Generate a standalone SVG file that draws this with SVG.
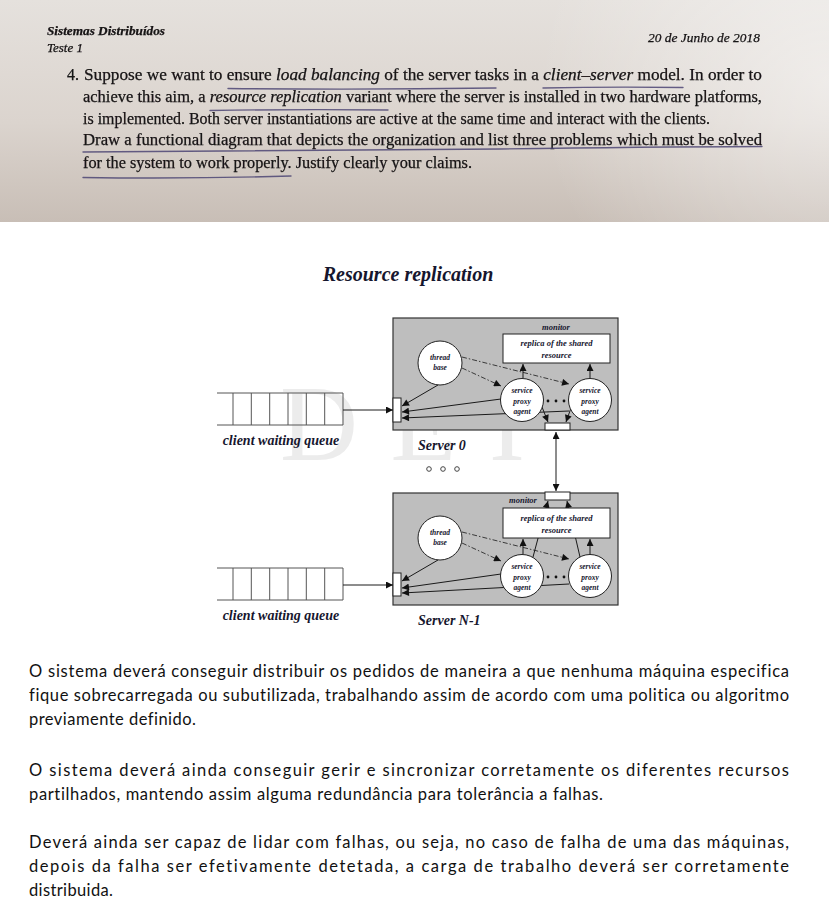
<svg xmlns="http://www.w3.org/2000/svg" width="829" height="922" viewBox="0 0 829 922">
  <defs>
    <linearGradient id="paperV" x1="0" y1="0" x2="0" y2="1">
      <stop offset="0" stop-color="#e5e1dd"/>
      <stop offset="0.55" stop-color="#dbd4ce"/>
      <stop offset="1" stop-color="#c8beb6"/>
    </linearGradient>
    <radialGradient id="paperGlow" cx="1" cy="0.1" r="0.35" gradientTransform="translate(0,0) scale(1,3.7)">
      <stop offset="0" stop-color="#ffffff" stop-opacity="0.5"/>
      <stop offset="1" stop-color="#ffffff" stop-opacity="0"/>
    </radialGradient>
    <filter id="soft" x="-5%" y="-5%" width="110%" height="110%">
      <feGaussianBlur stdDeviation="0.35"/>
    </filter>
    <marker id="ah" viewBox="0 0 10 10" refX="10" refY="5" markerWidth="9" markerHeight="7" orient="auto-start-reverse" markerUnits="userSpaceOnUse">
      <path d="M0,0 L10,5 L0,10 z" fill="#111"/>
    </marker>
    <style>
      .hdr { font-family: "Liberation Serif", serif; fill: #151314; stroke: #151314; stroke-width: 0.25; }
      .pen { fill: none; stroke: #4d4674; stroke-width: 1.4; stroke-linecap: round; opacity: 0.85; }
      .lbl { font-family: "Liberation Serif", serif; font-style: italic; font-weight: bold; fill: #16162e; }
      .srv { fill: #bebebe; stroke: #333; stroke-width: 1.2; }
      .wbox { fill: #fff; stroke: #222; stroke-width: 1; }
      .node { fill: #fff; stroke: #222; stroke-width: 1; }
      .ln { fill: none; stroke: #1a1a1a; stroke-width: 1; marker-end: url(#ah); }
      .dd { fill: none; stroke: #3a3a3a; stroke-width: 1; stroke-dasharray: 5 2 1.5 2; marker-end: url(#ah); }
      .q { fill: none; stroke: #555; stroke-width: 1; }
      .body { font-family: Lato, "Open Sans", sans-serif; font-size: 16.5px; fill: #111; font-variant-ligatures: none; }
    </style>
  </defs>

  <rect width="829" height="922" fill="#ffffff"/>

  <!-- exam sheet header -->
  <g id="exam-header">
    <rect x="0" y="0" width="829" height="222" fill="url(#paperV)"/>
    <rect x="0" y="0" width="829" height="222" fill="url(#paperGlow)"/>
    <g filter="url(#soft)">
      <text class="hdr" x="47" y="35" font-size="12" font-style="italic" font-weight="bold" textLength="118" lengthAdjust="spacingAndGlyphs">Sistemas Distribuídos</text>
      <text class="hdr" x="47" y="52" font-size="12" font-style="italic" textLength="36" lengthAdjust="spacingAndGlyphs">Teste 1</text>
      <text class="hdr" x="648" y="42" font-size="13" font-style="italic" textLength="112" lengthAdjust="spacingAndGlyphs">20 de Junho de 2018</text>

      <text class="hdr" x="67" y="80" font-size="16">4.</text>
      <text class="hdr" x="84" y="80" font-size="16" textLength="678" lengthAdjust="spacingAndGlyphs">Suppose we want to ensure <tspan font-style="italic">load balancing</tspan> of the server tasks in a <tspan font-style="italic">client–server</tspan> model. In order to</text>
      <text class="hdr" x="83" y="102" font-size="16" textLength="679" lengthAdjust="spacingAndGlyphs">achieve this aim, a <tspan font-style="italic">resource replication</tspan> variant where the server is installed in two hardware platforms,</text>
      <text class="hdr" x="83" y="124" font-size="16" textLength="627" lengthAdjust="spacingAndGlyphs">is implemented. Both server instantiations are active at the same time and interact with the clients.</text>
      <text class="hdr" x="83" y="145" font-size="16" textLength="679" lengthAdjust="spacingAndGlyphs">Draw a functional diagram that depicts the organization and list three problems which must be solved</text>
      <text class="hdr" x="83" y="168" font-size="16" textLength="389" lengthAdjust="spacingAndGlyphs">for the system to work properly. Justify clearly your claims.</text>

      <!-- pen marks -->
      <path class="pen" d="M228,88.5 Q360,90 496,88"/>
      <path class="pen" d="M543,88 Q610,86.5 683,87.5"/>
      <path class="pen" d="M210,110.5 Q300,109 388,110"/>
      <path class="pen" d="M83,152 Q300,150.5 500,149 Q640,147 762,146.5"/>
      <path class="pen" d="M83,177.5 Q190,179 291,176"/>
    </g>
  </g>

  <!-- title -->
  <text class="lbl" x="408" y="281" font-size="20" text-anchor="middle">Resource replication</text>

  <!-- background mark -->
  <text x="280" y="460" font-family="Liberation Serif, serif" font-size="108" fill="#ececec" textLength="245" lengthAdjust="spacing">DEI</text>

  <!-- client waiting queues -->
  <g id="queue-0">
    <path class="q" d="M217,393 H343 M217,425 H343 M233,393 V425 M251.3,393 V425 M269.7,393 V425 M288,393 V425 M306.3,393 V425 M324.7,393 V425 M343,393 V425"/>
    <text class="lbl" x="281" y="445" font-size="14" text-anchor="middle">client waiting queue</text>
  </g>
  <g id="queue-n1">
    <path class="q" d="M217,568 H343 M217,600 H343 M233,568 V600 M251.3,568 V600 M269.7,568 V600 M288,568 V600 M306.3,568 V600 M324.7,568 V600 M343,568 V600"/>
    <text class="lbl" x="281" y="620" font-size="14" text-anchor="middle">client waiting queue</text>
  </g>

  <!-- server 0 -->
  <g id="server-0">
    <rect class="srv" x="393" y="318" width="225" height="112"/>
    <text class="lbl" x="556" y="330" font-size="8.5" text-anchor="middle">monitor</text>
    <g id="server-0-links">
      <path class="ln" d="M438,385 L402,406"/>
      <path class="ln" d="M501,399 L402,412"/>
      <path class="ln" d="M569,411 L402,418"/>
      <path class="dd" d="M462,368 L501,386"/>
      <path class="dd" d="M462,357 L569,384"/>
      <path class="ln" d="M523,378 L523,364"/>
      <path class="ln" d="M590,378 L590,364"/>
      <path class="ln" d="M542,407 L548,422"/>
      <path class="ln" d="M571,408 L566,422"/>
    </g>
    <g id="server-0-replica">
      <rect class="wbox" x="503" y="334" width="107" height="29"/>
      <text class="lbl" x="556.5" y="346" font-size="8.5" text-anchor="middle">replica of the shared</text>
      <text class="lbl" x="556.5" y="358" font-size="8.5" text-anchor="middle">resource</text>
    </g>
    <g id="server-0-thread-base">
      <circle class="node" cx="440" cy="363" r="22"/>
      <text class="lbl" x="440" y="360" font-size="7.5" text-anchor="middle">thread</text>
      <text class="lbl" x="440" y="370" font-size="7.5" text-anchor="middle">base</text>
    </g>
    <g id="server-0-proxy-1">
      <circle class="node" cx="522" cy="400" r="21.5"/>
      <text class="lbl" x="522" y="393" font-size="7.5" text-anchor="middle">service</text>
      <text class="lbl" x="522" y="403.5" font-size="7.5" text-anchor="middle">proxy</text>
      <text class="lbl" x="522" y="414" font-size="7.5" text-anchor="middle">agent</text>
    </g>
    <g id="server-0-proxy-2">
      <circle class="node" cx="590" cy="400" r="21.5"/>
      <text class="lbl" x="590" y="393" font-size="7.5" text-anchor="middle">service</text>
      <text class="lbl" x="590" y="403.5" font-size="7.5" text-anchor="middle">proxy</text>
      <text class="lbl" x="590" y="414" font-size="7.5" text-anchor="middle">agent</text>
    </g>
    <g fill="#111">
      <circle cx="548" cy="401" r="1.4"/>
      <circle cx="556" cy="401" r="1.4"/>
      <circle cx="564" cy="401" r="1.4"/>
    </g>
    <rect id="server-0-input" class="wbox" x="393" y="398" width="8" height="24"/>
    <rect id="server-0-monitor-port" class="wbox" x="545" y="423" width="25" height="7"/>
  </g>
  <text class="lbl" x="418" y="450" font-size="14">Server 0</text>

  <!-- server N-1 -->
  <g id="server-n1">
    <rect class="srv" x="393" y="493" width="225" height="112"/>
    <text class="lbl" x="523" y="502.5" font-size="8.5" text-anchor="middle">monitor</text>
    <g id="server-n1-links">
      <path class="ln" d="M438,560 L402,581"/>
      <path class="ln" d="M501,574 L402,588"/>
      <path class="ln" d="M569,584 L402,593"/>
      <path class="dd" d="M462,543 L501,561"/>
      <path class="dd" d="M462,532 L569,559"/>
      <path class="ln" d="M523,554 L523,539"/>
      <path class="ln" d="M590,554 L590,539"/>
      <path class="ln" d="M533,557 L548,501"/>
      <path class="ln" d="M580,557 L567,501"/>
    </g>
    <g id="server-n1-replica">
      <rect class="wbox" x="503" y="508" width="107" height="30"/>
      <text class="lbl" x="556.5" y="520.5" font-size="8.5" text-anchor="middle">replica of the shared</text>
      <text class="lbl" x="556.5" y="532.5" font-size="8.5" text-anchor="middle">resource</text>
    </g>
    <g id="server-n1-thread-base">
      <circle class="node" cx="440" cy="538" r="22"/>
      <text class="lbl" x="440" y="535" font-size="7.5" text-anchor="middle">thread</text>
      <text class="lbl" x="440" y="545" font-size="7.5" text-anchor="middle">base</text>
    </g>
    <g id="server-n1-proxy-1">
      <circle class="node" cx="522" cy="576" r="21.5"/>
      <text class="lbl" x="522" y="569" font-size="7.5" text-anchor="middle">service</text>
      <text class="lbl" x="522" y="579.5" font-size="7.5" text-anchor="middle">proxy</text>
      <text class="lbl" x="522" y="590" font-size="7.5" text-anchor="middle">agent</text>
    </g>
    <g id="server-n1-proxy-2">
      <circle class="node" cx="590" cy="576" r="21.5"/>
      <text class="lbl" x="590" y="569" font-size="7.5" text-anchor="middle">service</text>
      <text class="lbl" x="590" y="579.5" font-size="7.5" text-anchor="middle">proxy</text>
      <text class="lbl" x="590" y="590" font-size="7.5" text-anchor="middle">agent</text>
    </g>
    <g fill="#111">
      <circle cx="548" cy="577" r="1.4"/>
      <circle cx="556" cy="577" r="1.4"/>
      <circle cx="564" cy="577" r="1.4"/>
    </g>
    <rect id="server-n1-input" class="wbox" x="393" y="573" width="8" height="23"/>
    <rect id="server-n1-monitor-port" class="wbox" x="545" y="492" width="25" height="8"/>
  </g>
  <text class="lbl" x="418" y="625" font-size="14">Server N-1</text>

  <!-- connectors between queues, servers and monitors -->
  <g id="connectors">
    <path class="ln" d="M343,410 L393,410"/>
    <path class="ln" d="M343,585 L393,585"/>
    <path class="ln" d="M556,432 L556,491" marker-start="url(#ah)"/>
  </g>

  <!-- replicated server ellipsis -->
  <g fill="none" stroke="#444" stroke-width="1">
    <circle cx="429" cy="469" r="2.3"/>
    <circle cx="443" cy="469" r="2.3"/>
    <circle cx="457" cy="469" r="2.3"/>
  </g>

  <!-- answer -->
  <g id="answer">
    <text class="body" x="29" y="677" textLength="760" lengthAdjust="spacing">O sistema deverá conseguir distribuir os pedidos de maneira a que nenhuma máquina especifica</text>
    <text class="body" x="29" y="701" textLength="760" lengthAdjust="spacing">fique sobrecarregada ou subutilizada, trabalhando assim de acordo com uma politica ou algoritmo</text>
    <text class="body" x="29" y="725" textLength="167" lengthAdjust="spacing">previamente definido.</text>

    <text class="body" x="29" y="776" textLength="760" lengthAdjust="spacing">O sistema deverá ainda conseguir gerir e sincronizar corretamente os diferentes  recursos</text>
    <text class="body" x="29" y="800" textLength="574" lengthAdjust="spacing">partilhados, mantendo assim alguma redundância para tolerância a falhas.</text>

    <text class="body" x="29" y="848" textLength="760" lengthAdjust="spacing">Deverá ainda ser capaz de lidar com falhas, ou seja, no caso de falha de uma das máquinas,</text>
    <text class="body" x="29" y="872" textLength="760" lengthAdjust="spacing">depois da falha ser efetivamente detetada, a carga de trabalho deverá ser corretamente</text>
    <text class="body" x="29" y="896" textLength="84" lengthAdjust="spacing">distribuida.</text>
  </g>
</svg>
